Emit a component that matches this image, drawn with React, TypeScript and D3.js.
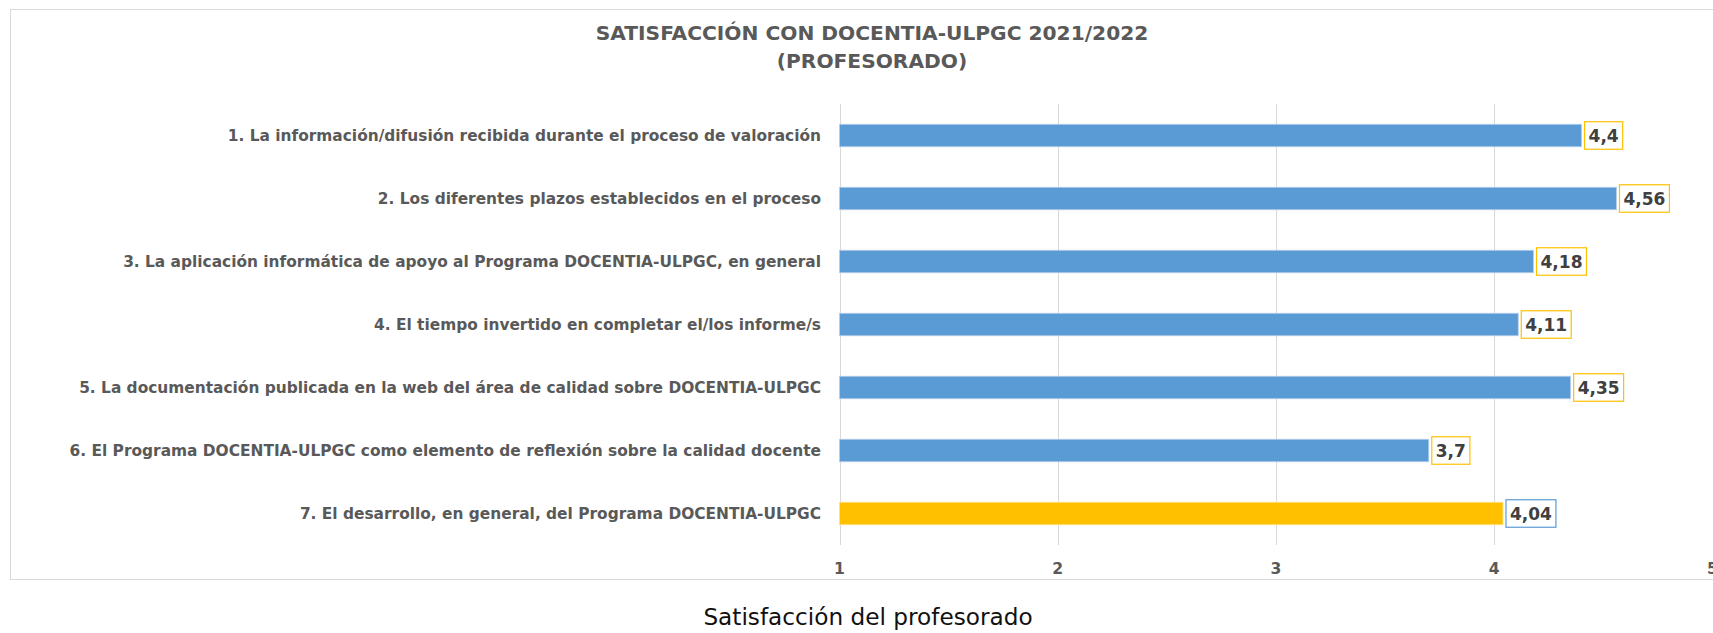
import React, { useRef, useEffect } from 'react';
import * as d3 from 'd3';

const categories = [
  '1. La información/difusión recibida durante el proceso de valoración',
  '2. Los diferentes plazos establecidos en el proceso',
  '3. La aplicación informática de apoyo al Programa DOCENTIA-ULPGC, en general',
  '4. El tiempo invertido en completar el/los informe/s',
  '5. La documentación publicada en la web del área de calidad sobre DOCENTIA-ULPGC',
  '6. El Programa DOCENTIA-ULPGC como elemento de reflexión sobre la calidad docente',
  '7. El desarrollo, en general, del Programa DOCENTIA-ULPGC',
];
const values = [4.4, 4.56, 4.18, 4.11, 4.35, 3.7, 4.04];
const xTicks = [1, 2, 3, 4, 5];
const titleLines = ['SATISFACCIÓN CON DOCENTIA-ULPGC 2021/2022', '(PROFESORADO)'];
const axisTitle = 'Satisfacción del profesorado';

const WIDTH = 1713;
const HEIGHT = 633;
const BLUE = '#5B9BD5';
const GOLD = '#FFC000';
const GRID = '#D9D9D9';
const FONT = '"DejaVu Sans", Verdana, sans-serif';

const fmt = (v: number) => String(v).replace('.', ',');

const App = () => {
  const svgRef = useRef<SVGSVGElement>(null);

  useEffect(() => {
    const svg = d3.select(svgRef.current);
    svg.selectAll('*').remove();

    const x = d3.scaleLinear().domain([1, 5]).range([839.5, 1712.5]);
    const y = d3.scaleBand()
      .domain(categories)
      .range([104, 545])
      .paddingInner(0.643)
      .paddingOuter(0.3215);

    // chart frame
    svg.append('rect')
      .attr('x', 10.5).attr('y', 9.5)
      .attr('width', 1722).attr('height', 570)
      .attr('fill', '#fff')
      .attr('stroke', GRID);

    // title
    svg.append('text')
      .attr('text-anchor', 'middle')
      .attr('font-family', FONT)
      .attr('font-weight', 700)
      .attr('font-size', 20.2)
      .attr('fill', '#595959')
      .selectAll('tspan')
      .data(titleLines)
      .join('tspan')
      .attr('x', 872)
      .attr('y', (d, i) => 39.5 + i * 28.5)
      .text((d) => d);

    // vertical gridlines
    svg.append('g')
      .selectAll('line')
      .data(xTicks)
      .join('line')
      .attr('x1', (d) => Math.round(x(d)) + 0.5)
      .attr('x2', (d) => Math.round(x(d)) + 0.5)
      .attr('y1', 104)
      .attr('y2', 545)
      .attr('stroke', GRID);

    // tick labels
    svg.append('g')
      .selectAll('text')
      .data(xTicks)
      .join('text')
      .attr('x', (d) => x(d))
      .attr('y', 574)
      .attr('text-anchor', 'middle')
      .attr('font-family', FONT)
      .attr('font-weight', 700)
      .attr('font-size', 15.6)
      .attr('fill', '#595959')
      .text((d) => d);

    // category labels
    svg.append('g')
      .selectAll('text')
      .data(categories)
      .join('text')
      .attr('x', 821)
      .attr('y', (d) => (y(d) as number) + y.bandwidth() / 2)
      .attr('dy', '0.36em')
      .attr('text-anchor', 'end')
      .attr('font-family', FONT)
      .attr('font-weight', 700)
      .attr('font-size', 15.4)
      .attr('fill', '#595959')
      .text((d) => d);

    // bars
    svg.append('g')
      .selectAll('rect')
      .data(values)
      .join('rect')
      .attr('x', x(1))
      .attr('y', (d, i) => y(categories[i]) as number)
      .attr('width', (d) => x(d) - x(1))
      .attr('height', y.bandwidth())
      .attr('fill', (d, i) => (i === values.length - 1 ? GOLD : BLUE))
      .attr('stroke', (d, i) => (i === values.length - 1 ? '#FFE08A' : '#B4CFEC'))
      .attr('stroke-width', 0.8);

    // data labels in boxes
    const labels = svg.append('g')
      .selectAll('g')
      .data(values)
      .join('g')
      .attr('transform', (d, i) =>
        `translate(${x(d) + 3},${(y(categories[i]) as number) + y.bandwidth() / 2})`);

    const rects = labels.append('rect')
      .attr('y', -13.75)
      .attr('height', 27.5)
      .attr('fill', '#fff')
      .attr('stroke', (d, i) => (i === values.length - 1 ? BLUE : GOLD))
      .attr('stroke-width', 1.2);

    const texts = labels.append('text')
      .attr('x', 4)
      .attr('dy', '0.36em')
      .attr('font-family', FONT)
      .attr('font-weight', 700)
      .attr('font-size', 17)
      .attr('fill', '#404040')
      .text((d) => fmt(d));

    texts.each(function (d, i) {
      const w = (this as SVGTextElement).getComputedTextLength();
      d3.select(rects.nodes()[i]).attr('width', w + 8);
    });

    // axis title below the frame
    svg.append('text')
      .attr('x', 868)
      .attr('y', 625)
      .attr('text-anchor', 'middle')
      .attr('font-family', FONT)
      .attr('font-size', 23.2)
      .attr('fill', '#111')
      .text(axisTitle);
  }, []);

  return (
    <svg
      ref={svgRef}
      width={WIDTH}
      height={HEIGHT}
      style={{ position: 'absolute', left: 0, top: 0, background: '#fff' }}
    />
  );
};

export default App;
